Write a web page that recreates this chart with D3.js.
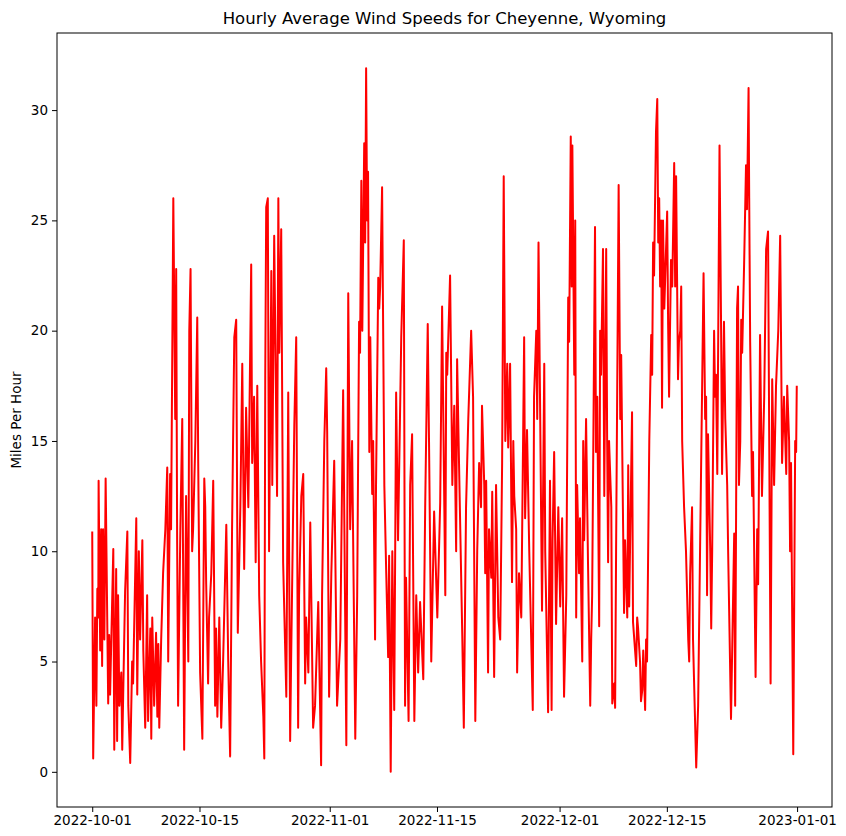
<!DOCTYPE html>
<html>
<head>
<meta charset="utf-8">
<script src="https://cdn.jsdelivr.net/npm/d3@7"></script>
<style>
  body { margin: 0; background: #fff; }
  text { font-family: "DejaVu Sans", sans-serif; }
</style>
</head>
<body>
<div id="chart"></div>
<script>
// hours since 2022-10-01 00:00 UTC, and wind speed (mph)
var octHour = [0,3,9,13,16,19,20,25,28,31,34,38,42,50,53,56,66,69,75,78,81,85,91,94,97,103,110,113,119,125,128,138,141,146,150,157,160,166,172,175,182,185,188,194,200,204,207,210,216,222,229,235,238,244,247,254,260,263,266,269,276,282,288,291,294,301,304,308,313,316,323,329,332,338,345,351,354,357,363,366,373,379,385,388,392,398,404,410,420,426,432,438,445,451,456,464,470,476,482,489,498,501,507,512,517,523,529,536,539,542,545,550,554,561,564,570,579,583,586,592,598,608,614,620,623,633,639,645,648,655,661,667,670,677,683,692,698,708,717,720,727,733,736,742]
var octMph  = [10.9,0.6,7,3,8.3,7,13.2,5.5,11,4.8,11,6,13.3,3.1,6.2,3.5,10.1,1,9.2,1.4,8,3,4.5,1,3.5,8.2,10.9,3,0.4,5,4,11.5,3.5,10,6,10.5,5.5,2,8,2.3,6.5,1.5,7,3,6.3,2.5,5.8,2,6,9,11,13.8,5,13.5,11,26,16,22.8,10.5,3,11,16,1,7,12.5,5,20,22.8,10,11,15,20.6,14,4.5,1.5,13.3,12,8.5,4,7,9,13.2,3,6.5,2.5,7,2,5,11.2,5,0.7,11,19.7,20.5,6.3,12,18.5,9.2,16.5,12,23,14,17,9.5,17.5,8,5,2.5,0.6,18,25.6,26,10,22.7,13,24.3,12.5,26,19,24.6,9.5,3.4,17.2,1.4,5,15.7,19.7,2,8,12.5,13.5,4,7,4.5,11.3,2,3,7.7,0.3,8,15,18.3,15.4,3.4]

var novHour = [749,758,767,777,786,796,802,808,811,814,824,830,836,839,843,846,852,855,858,861,864,868,871,877,880,886,889,896,899,902,908,915,921,927,930,935,940,946,952,958,968,976,980,983,991,996,1002,1009,1015,1021,1027,1037,1043,1051,1055,1062,1071,1081,1090,1096,1106,1109,1112,1121,1128,1134,1140,1143,1149,1159,1164,1171,1178,1187,1193,1200,1206,1212,1218,1221,1228,1231,1234,1240,1243,1250,1253,1259,1265,1272,1278,1284,1289,1294,1300,1303,1309,1315,1319,1322,1328,1331,1337,1344,1353,1356,1362,1369,1380,1384,1391,1394,1398,1403,1409,1416,1419,1428,1434,1439,1442,1447,1453,1460]
var novMph  = [9,14.1,3,6,17.3,1.2,21.7,11,13,15,1.5,8,20.4,19,26.8,20,28.5,24,31.9,25,27.2,14.5,19.7,12.6,15,6,13,22.4,21,22,26.5,13,9,5.2,9.8,0,10,2.8,17.2,10.5,19.7,24.1,3,8.8,2.3,13,15.3,2.3,8,4.5,7.7,4.2,12,20.3,15,5,11.8,7,12.2,21.1,8,19,18,22.5,13,16.6,10,18.7,14,6.3,2,12,16,20,17,2.3,10,14,12,16.6,13,9,13.2,4.5,11,8.8,12.7,4.3,13,7,6,14,27,15,18.5,14.7,18.5,8.6,15,12.5,11,4.5,9,7,19.7,11.5,15.5,10,2.8,17,20,16,24,16.5,7.3,18.5,10,2.7,13.2,2.8,10.5,14.5,6.7,12]

var decHour = [1466,1472,1478,1485,1491,1494,1499,1502,1504,1510,1513,1516,1519,1525,1528,1535,1538,1541,1547,1553,1560,1563,1566,1575,1578,1582,1588,1591,1594,1600,1604,1610,1613,1616,1619,1626,1629,1635,1638,1641,1649,1654,1657,1666,1669,1676,1679,1682,1691,1694,1704,1707,1710,1716,1719,1723,1726,1732,1735,1738,1745,1751,1754,1757,1760,1766,1770,1773,1776,1779,1782,1785,1788,1792,1801,1804,1807,1813,1817,1823,1826,1829,1835,1838,1842,1845,1848,1854,1860,1867,1870,1873,1879,1882,1892,1898,1904,1911,1915,1920,1923,1926,1929,1936,1939,1942,1948,1951,1954,1958,1965,1970,1973,1979,1983,1989,1992,2001,2011,2014,2020,2023,2026,2030,2033,2036,2042,2048,2051,2056,2058,2061,2067,2070,2078,2083,2086,2092,2098,2105,2111,2117,2125,2130,2136,2142,2149,2155,2161,2167,2174,2177,2183,2186,2189,2196,2202,2205,2207]
var decMph  = [7.5,11.5,3.4,8,21.5,19.5,28.8,22,28.4,18,25,7,13,9,11.5,5,15,10.5,16,9.5,3,6,8,24.7,14.5,17,6.6,20,18,23.7,12.5,23.7,15,9.5,15,12,3.1,4,2.9,10,26.6,16,18.9,7.2,10.5,7,13.9,7.5,16.3,6.8,4.8,7,6.5,5,3.2,3.7,5.5,2.8,6,5,15,19.8,18,24,22.5,29,30.5,24,26,22,25,16.5,25,21,25.4,20.3,17,23.2,22,27.6,22,27,17.8,19.5,20,22,15,12,10,6,5,9,12,6,0.2,3,10,18,22.6,16,17,8,15.3,10,6.5,10,20,17,18,13.5,28.4,20,13.5,20.4,16,13,10,2.4,10.8,3,21,22,13,15,20.5,19,23,27.5,25.5,31,26,19.5,12.5,14.5,4.3,11,8.5,19.8,12.5,17,23.7,24.5,4,17.8,13,17.5,20,24.3,14,17,13.5,17.5,15,10,14,0.8,15,14.5,17.5]

var xTicks = ["2022-10-01","2022-10-15","2022-11-01","2022-11-15","2022-12-01","2022-12-15","2023-01-01"]
var yTicks = [0,5,10,15,20,25,30]

var start = Date.UTC(2022, 9, 1)
var hours = octHour.concat(novHour, decHour)
var mph = octMph.concat(novMph, decMph)
var data = hours.map(function(h, i) { return { t: new Date(start + h * 3600e3), v: mph[i] } })

var W = 846, H = 836
var margin = {top: 33, right: 14, bottom: 29, left: 57},
    width = W - margin.left - margin.right,
    height = H - margin.top - margin.bottom

var svg = d3.select('#chart').append('svg')
    .attr('width', W)
    .attr('height', H)

var g = svg.append('g')
    .attr('transform', 'translate(' + margin.left + ',' + margin.top + ')')

// matplotlib style 5% padding on both axes
var tExt = d3.extent(data, function(d) { return +d.t })
var tPad = (tExt[1] - tExt[0]) * 0.05
var x = d3.scaleUtc()
    .domain([new Date(tExt[0] - tPad), new Date(tExt[1] + tPad)])
    .range([0, width])

var vExt = d3.extent(data, function(d) { return d.v })
var vPad = (vExt[1] - vExt[0]) * 0.05
var y = d3.scaleLinear()
    .domain([vExt[0] - vPad, vExt[1] + vPad])
    .range([height, 0])

var parse = d3.utcParse('%Y-%m-%d')

g.append('path')
    .datum(data)
    .attr('fill', 'none')
    .attr('stroke', '#ff0000')
    .attr('stroke-width', 2)
    .attr('stroke-linejoin', 'round')
    .attr('d', d3.line()
      .x(function(d) { return x(d.t) })
      .y(function(d) { return y(d.v) }))

var xAxis = g.append('g')
    .attr('transform', 'translate(0,' + height + ')')
    .call(d3.axisBottom(x)
      .tickValues(xTicks.map(parse))
      .tickFormat(d3.utcFormat('%Y-%m-%d'))
      .tickSize(5)
      .tickPadding(3)
      .tickSizeOuter(0))

var yAxis = g.append('g')
    .call(d3.axisLeft(y)
      .tickValues(yTicks)
      .tickSize(5)
      .tickPadding(4)
      .tickSizeOuter(0))

g.selectAll('.tick text')
    .attr('font-size', 13.5)
    .attr('font-family', '"DejaVu Sans", sans-serif')
    .attr('fill', '#000')
g.selectAll('.tick line').attr('stroke', '#000')
g.selectAll('.domain').remove()

// frame
g.append('rect')
    .attr('width', width)
    .attr('height', height)
    .attr('fill', 'none')
    .attr('stroke', '#000')
    .attr('stroke-width', 1)

svg.append('text')
    .attr('x', margin.left + width / 2)
    .attr('y', 24)
    .attr('text-anchor', 'middle')
    .attr('font-size', 16.5)
    .text('Hourly Average Wind Speeds for Cheyenne, Wyoming')

svg.append('text')
    .attr('transform', 'translate(21,' + (margin.top + height / 2) + ') rotate(-90)')
    .attr('text-anchor', 'middle')
    .attr('font-size', 13.5)
    .text('Miles Per Hour')
</script>
</body>
</html>
